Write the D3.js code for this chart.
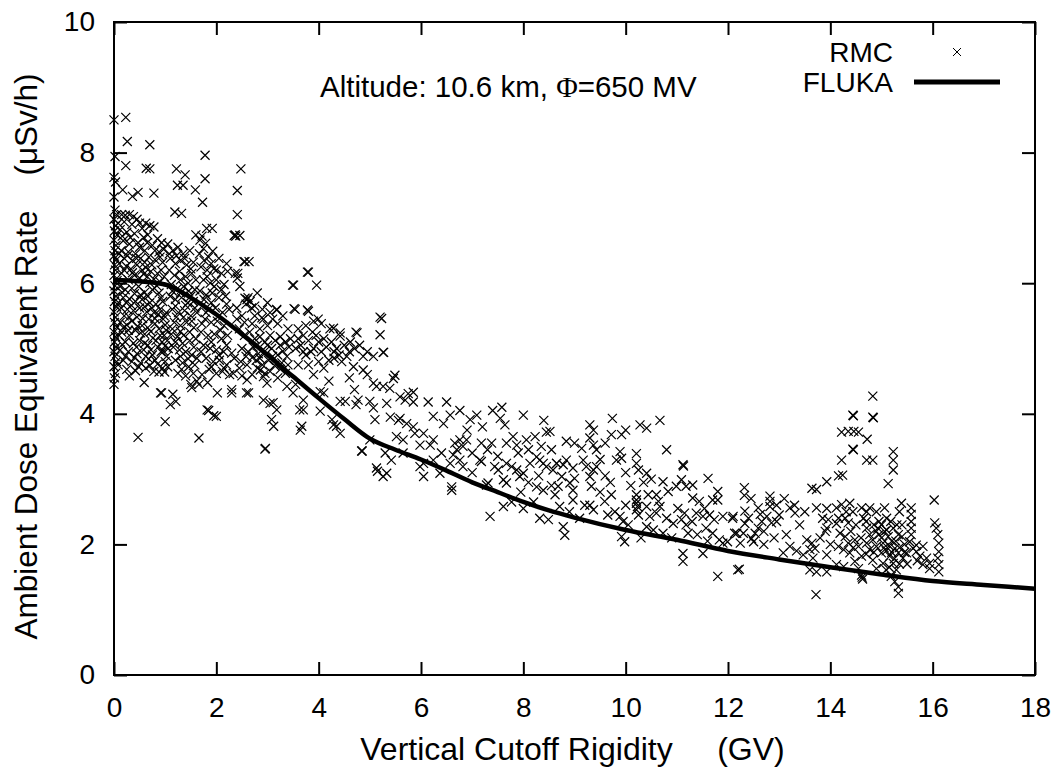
<!DOCTYPE html>
<html><head><meta charset="utf-8">
<script src="https://cdn.jsdelivr.net/npm/d3@7"></script>
<style>
html,body{margin:0;padding:0;background:#fff;}
svg{display:block;font-family:"Liberation Sans",Arial,sans-serif;}
</style></head>
<body><svg id="c" width="1058" height="774"></svg>
<script>
// ---------------- DATA ----------------
const xTicks = [0,2,4,6,8,10,12,14,16,18];
const yTicks = [0,2,4,6,8,10];
const xLabel = "Vertical Cutoff Rigidity     (GV)";
const yLabel = "Ambient Dose Equivalent Rate    (\u03BCSv/h)";
const seriesNames = ["RMC","FLUKA"];

// FLUKA calculation
const flukaX = [0,0.5,1,1.5,2,2.5,3,3.5,4,4.5,5,5.5,6,6.5,7,7.5,8,8.5,9,10,11,12,13,14,15,16,17,18];
const flukaY = [6.05,6.03,5.98,5.78,5.52,5.22,4.9,4.57,4.24,3.92,3.62,3.45,3.3,3.13,2.95,2.8,2.65,2.52,2.41,2.22,2.07,1.9,1.77,1.65,1.54,1.44,1.38,1.32];

// RMC measurements [rigidity GV, dose rate uSv/h]
const rmcEdge = [[0.0,8.50],[0.02,7.94],[0.0,7.62],[0.03,7.55],[0.0,7.32],[0.02,7.12],[0.05,7.05],[0.0,6.98],[0.03,6.88],[0.01,6.80],[0.06,6.74],[0.0,6.66],[0.04,6.58],[0.02,6.50],[0.0,6.42],[0.05,6.36],[0.01,6.28],[0.03,6.20],[0.0,6.12],[0.06,6.04],[0.02,5.96],[0.0,5.88],[0.04,5.80],[0.01,5.72],[0.05,5.64],[0.0,5.56],[0.03,5.48],[0.01,5.40],[0.06,5.33],[0.0,5.25],[0.03,5.18],[0.01,5.10],[0.04,5.02],[0.0,4.95],[0.02,4.88],[0.05,4.80],[0.0,4.72],[0.03,4.62],[0.01,4.55],[0.0,4.45],[0.08,6.92],[0.1,6.45],[0.09,5.70],[0.1,5.20],[0.08,4.75]];

const rmcLow = [[0.23,8.54],[0.26,8.17],[0.70,8.12],[0.23,7.80],[0.63,7.76],[0.70,7.75],[0.17,7.43],[0.36,7.33],[0.47,7.39],[0.78,7.38],
[0.15,7.05],[0.22,7.04],[0.3,7.05],[0.38,7.02],[0.45,6.98],[0.5,6.92],[0.62,6.92],[0.7,6.88],[0.78,6.86],[0.2,6.94],[0.35,6.9],[0.55,6.84],
[0.12,6.82],[0.25,6.78],[0.4,6.76],[0.58,6.7],[0.66,6.74],[0.85,6.68],[0.93,6.62],[0.18,6.65],[0.3,6.6],[0.47,6.62],[0.75,6.58],[0.14,6.5],[0.28,6.48],[0.42,6.45],[0.6,6.5],[0.88,6.48],[0.97,6.52],[0.2,6.38],[0.36,6.35],[0.52,6.38],[0.68,6.4],[0.8,6.36],[0.95,6.32],
[0.1,6.3],[0.24,6.26],[0.33,6.22],[0.45,6.28],[0.55,6.2],[0.62,6.24],[0.72,6.18],[0.85,6.15],[0.92,6.2],[0.15,6.15],[0.4,6.12],[0.5,6.08],[0.65,6.1],[0.78,6.06],[0.9,6.02],[0.28,6.05],[0.98,6.1],
[0.12,5.95],[0.22,5.9],[0.35,5.92],[0.48,5.95],[0.6,5.86],[0.75,5.9],[0.88,5.85],[0.18,5.78],[0.3,5.76],[0.42,5.72],[0.55,5.75],[0.7,5.7],[0.82,5.68],[0.95,5.72],[0.14,5.62],[0.26,5.6],[0.38,5.58],[0.5,5.62],[0.64,5.56],[0.78,5.55],[0.9,5.6],[0.2,5.5],[0.45,5.48],[0.68,5.45],[0.98,5.5],
[0.12,5.4],[0.25,5.36],[0.35,5.42],[0.55,5.35],[0.8,5.38],[0.15,5.25],[0.3,5.2],[0.42,5.28],[0.6,5.22],[0.72,5.26],[0.88,5.3],[0.22,5.1],[0.38,5.08],[0.5,5.12],[0.66,5.05],[0.82,5.12],[0.12,4.98],[0.28,4.95],[0.45,4.92],[0.58,4.98],[0.75,4.9],[0.92,4.95],[0.18,4.82],[0.35,4.8],[0.52,4.78],[0.68,4.84],[0.85,4.76],[0.25,4.68],[0.42,4.66],[0.62,4.7],[0.78,4.65],[0.95,4.7],[0.59,4.48],[0.91,4.32],[0.47,3.64],[0.3,4.58],
[0.96,5.45],[1.0,5.36],[1.02,5.28],[0.98,5.2],[1.04,5.12],[1.0,5.04],[0.97,4.96],[1.03,4.88],[1.0,4.8],[1.05,4.72],[0.99,4.64],[1.02,5.55],[1.06,5.0],[0.94,5.1],
[0.16,6.72],[0.32,6.7],[0.5,6.55],[0.65,6.62],[0.8,6.5],[0.26,6.42],[0.44,6.38],[0.6,6.32],[0.74,6.28],[0.9,6.4],[0.2,6.2],[0.36,6.16],[0.58,6.14],[0.7,6.0],[0.84,5.96],[0.16,5.86],[0.4,5.84],[0.52,5.82],[0.66,5.8],[0.92,5.78],[0.24,5.7],[0.34,5.66],[0.6,5.64],[0.74,5.62],[0.86,5.52],[0.3,5.48],[0.56,5.46],[0.8,5.46],[0.18,5.32],[0.46,5.34],[0.66,5.32],[0.9,5.2],[0.28,5.28],[0.52,5.24],[0.76,5.16],[0.16,5.06],[0.44,5.02],[0.6,5.08],[0.72,4.98],[0.86,5.02],[0.22,4.88],[0.4,4.86],[0.62,4.88],[0.8,4.82],[0.48,4.72],[0.7,4.74],[0.88,4.64]];

const rmcLowMid = [[1.22,7.75],[1.39,7.66],[1.24,7.5],[1.35,7.5],[1.59,7.43],[1.78,7.6],[1.78,7.96],[1.73,7.24],[1.19,7.09],[1.32,7.07],[1.81,6.84],[1.6,6.74],[1.68,6.66],[1.92,6.84],[1.72,6.72],[1.75,6.53],[1.79,6.61],
[1.05,6.6],[1.15,6.5],[1.25,6.55],[1.35,6.45],[1.48,6.5],[1.1,6.38],[1.2,6.3],[1.3,6.35],[1.42,6.28],[1.55,6.32],[1.08,6.2],[1.18,6.12],[1.28,6.18],[1.4,6.1],[1.52,6.15],[1.6,6.05],[1.12,5.98],[1.24,5.92],[1.36,5.95],[1.46,5.88],[1.58,5.9],[1.1,5.8],[1.2,5.75],[1.32,5.78],[1.44,5.7],[1.55,5.72],[1.14,5.6],[1.26,5.55],[1.38,5.58],[1.5,5.5],[1.62,5.55],[1.18,5.4],[1.3,5.35],[1.42,5.4],[1.56,5.32],[1.12,5.22],[1.24,5.18],[1.36,5.2],[1.48,5.12],[1.6,5.15],[1.16,5.02],[1.28,4.98],[1.4,4.95],[1.52,4.9],[1.2,4.82],[1.34,4.78],[1.46,4.72],[1.58,4.75],[1.25,4.62],[1.4,4.58],[1.1,4.14],[1.21,4.19],[1.15,4.3],[0.93,4.32],[1.0,3.88],[1.66,3.63],[1.5,4.45],[1.62,4.5],
[1.67,6.45],[1.85,6.4],[1.93,6.49],[2.05,6.38],[2.2,6.3],[1.7,6.25],[1.82,6.2],[1.95,6.22],[2.1,6.15],[2.22,6.18],[1.75,6.05],[1.88,6.0],[2.0,6.05],[2.15,5.98],[1.68,5.88],[1.8,5.82],[1.92,5.85],[2.05,5.78],[2.18,5.8],[1.72,5.65],[1.85,5.6],[1.98,5.62],[2.12,5.55],[2.25,5.6],[1.78,5.45],[1.9,5.4],[2.02,5.42],[2.15,5.35],[1.7,5.25],[1.84,5.2],[1.96,5.22],[2.1,5.15],[2.22,5.2],[1.75,5.05],[1.88,5.0],[2.0,4.98],[2.14,4.95],[1.8,4.85],[1.94,4.8],[2.06,4.82],[2.2,4.75],[1.86,4.68],[2.0,4.62],[2.12,4.65],[2.26,4.6],[1.52,4.4],[1.66,4.45],[1.83,4.48],[2.02,4.32],[2.15,4.7],[1.85,4.05],[2.0,3.96],[1.82,4.06],[1.95,3.97],[2.3,4.32],
[1.08,6.45],[1.22,6.42],[1.38,6.38],[1.5,6.22],[1.3,6.05],[1.45,6.0],[1.14,5.88],[1.3,5.85],[1.5,5.8],[1.2,5.65],[1.4,5.66],[1.58,5.62],[1.22,5.48],[1.36,5.48],[1.52,5.42],[1.14,5.3],[1.3,5.26],[1.48,5.25],[1.2,5.1],[1.34,5.08],[1.56,5.02],[1.3,4.88],[1.45,4.84],[1.62,4.85],[1.32,4.68],[1.55,4.62],[1.76,6.35],[1.9,6.3],[2.0,6.2],[1.82,6.1],[1.96,5.95],[2.1,5.9],[1.76,5.75],[1.9,5.7],[2.2,5.68],[1.8,5.55],[2.05,5.5],[1.72,5.38],[2.08,5.28],[1.9,5.1],[2.2,5.05],[1.7,4.95],[2.05,4.9],[1.9,4.72],[1.72,4.6]];

const rmcMid = [[2.37,6.74],[2.38,6.72],[2.41,7.05],[2.41,7.42],[2.48,7.75],[2.35,6.73],[2.46,6.73],[2.54,6.33],[2.56,6.33],[2.64,6.33],[2.42,6.15],[2.37,6.15],[2.41,6.08],[2.46,5.95],[2.56,5.77],[2.6,5.75],[2.62,5.78],[2.66,5.72],[2.69,5.62],[2.58,5.68],[2.4,5.45],[2.4,5.62],[2.5,5.5],[2.75,5.5],[2.89,5.47],[2.92,5.45],[2.85,5.3],[2.45,5.3],[2.55,5.2],[2.65,5.25],[2.75,5.15],[2.85,5.18],[2.95,5.1],[3.05,5.2],[3.15,5.12],[3.25,5.18],[3.35,5.1],[3.45,5.15],[2.5,5.0],[2.62,4.95],[2.72,5.02],[2.82,4.92],[2.95,4.96],[3.08,5.0],[3.2,4.9],[3.3,4.96],[3.42,5.02],[2.35,4.85],[2.48,4.8],[2.6,4.75],[2.78,4.82],[2.9,4.75],[3.02,4.82],[3.14,4.74],[3.28,4.78],[2.3,4.93],[2.33,4.62],[2.3,4.37],[2.6,4.52],[2.63,4.32],[2.59,4.32],[2.86,4.67],[2.92,4.57],[2.99,4.47],[2.92,4.21],[3.05,4.16],[3.18,4.06],[3.08,3.91],[3.12,3.81],[3.38,4.42],[3.5,4.32],[3.11,4.17],[2.95,3.46],[2.96,3.47],[3.18,5.59],[3.18,5.6],[3.0,5.35],[3.2,5.38],[3.4,5.3],[3.1,5.45],[3.3,5.5],[2.7,4.6],[3.2,4.55],[3.35,4.62],
[3.49,5.97],[3.51,5.97],[3.78,6.17],[3.8,6.17],[3.96,5.97],[3.54,5.6],[3.52,5.61],[3.8,5.57],[3.78,5.59],[3.99,5.45],[3.9,5.42],[3.6,5.3],[3.7,5.2],[3.65,5.05],[3.8,5.12],[3.9,5.0],[4.0,5.1],[3.75,4.9],[3.85,4.95],[4.05,4.95],[4.15,5.02],[4.22,5.3],[4.29,5.31],[4.42,5.19],[4.42,5.24],[4.25,5.1],[4.35,5.0],[4.5,5.05],[4.6,4.95],[4.73,5.25],[4.75,5.24],[4.7,5.0],[4.87,4.88],[5.07,4.88],[4.68,4.72],[4.87,4.67],[4.3,4.85],[4.45,4.8],[3.6,4.75],[3.7,4.21],[3.7,4.06],[3.63,4.06],[3.64,3.75],[3.67,3.81],[4.03,4.34],[4.1,4.32],[4.03,4.04],[4.26,3.91],[4.35,3.81],[4.29,3.83],[4.42,3.7],[4.42,4.19],[4.52,4.19],[4.7,4.37],[4.77,4.21],[4.73,4.14],[5.0,4.19],[5.07,4.09],[5.1,3.91],[5.07,4.47],[5.13,4.42],[5.33,4.16],[4.84,3.43],[4.85,3.43],[5.13,3.17],[5.15,3.12],[5.2,5.48],[5.2,5.21],[5.27,4.94],[5.23,5.46],[5.26,4.94],[5.46,4.54],[5.49,4.59],[5.26,4.42],[5.39,4.39],[5.3,3.4],[5.33,3.09],[5.26,3.04],[5.42,3.29],[3.9,4.6],[4.1,4.7],[4.2,4.5],[4.6,4.55],[3.55,4.45],[4.95,4.6],[5.0,3.6],[5.4,3.95],
[2.55,5.4],[2.7,5.38],[2.8,5.05],[3.0,5.05],[3.25,5.05],[2.58,4.88],[2.7,4.86],[2.85,4.85],[3.1,4.88],[3.38,4.88],[2.45,4.7],[2.8,4.7],[3.05,4.65],[3.25,4.68],[2.5,4.58],[2.95,4.62],[3.4,4.75],[3.55,5.0],[3.7,4.95],[3.6,5.15],[3.95,5.2],[4.1,5.15],[3.75,5.35],[3.88,5.25],[4.05,5.38],[4.3,4.95],[4.4,4.9],[4.55,4.88],[4.62,5.1],[4.8,5.05],[4.95,4.95],[4.0,4.8],[3.8,4.75],[4.2,4.82],[2.75,5.65],[2.9,5.6],[3.05,5.55],[2.8,5.85],[3.0,5.7]];

const rmcMidHigh = [[5.59,4.26],[5.75,4.31],[5.85,4.33],[5.69,4.21],[5.85,4.18],[6.14,4.18],[6.5,4.18],[6.76,4.05],[5.56,3.90],[5.59,3.93],[5.72,3.85],[5.85,3.8],[6.24,3.96],[6.44,3.85],[6.57,3.98],[6.96,3.91],[7.09,3.98],[7.58,4.1],[7.55,3.93],[7.64,3.83],[8.0,3.98],[5.52,3.65],[5.65,3.6],[5.88,3.70],[6.05,3.70],[5.98,3.52],[6.18,3.52],[6.24,3.6],[6.66,3.55],[6.76,3.6],[6.89,3.6],[7.18,3.55],[7.38,3.55],[7.8,3.65],[7.67,3.55],[7.87,3.52],[8.06,3.6],[8.23,3.65],[8.45,3.72],[5.65,3.40],[6.24,3.29],[6.57,3.24],[6.63,3.37],[6.76,3.29],[6.82,3.19],[7.15,3.29],[7.18,3.27],[7.44,3.19],[7.51,3.14],[7.67,3.24],[7.77,3.19],[7.87,3.14],[8.0,3.09],[8.13,3.24],[8.26,3.34],[8.32,3.29],[8.39,3.24],[8.45,3.19],[7.61,2.99],[7.67,2.94],[7.93,3.04],[8.26,2.88],[8.39,2.83],[8.58,3.14],[8.65,3.24],[6.05,3.04],[6.37,3.09],[6.6,2.88],[6.6,2.83],[7.28,2.91],[7.31,2.94],[7.61,2.58],[7.77,2.65],[7.35,2.43],[8.32,2.4],[8.49,2.38],[8.71,2.58],[5.98,3.19],[6.05,3.24],[6.7,3.45],[6.82,3.5],[7.0,3.4],[7.3,3.45],[7.5,3.35],[7.9,3.4],[8.1,3.45],[8.35,3.5],[6.4,3.4],[7.0,3.1],[8.1,2.95],[8.55,2.9],[7.95,2.8],[8.2,2.65],[8.0,2.55],[7.2,3.8],[6.9,3.75],[7.4,4.05],[8.4,3.9],[8.3,3.05]];

const rmcHigh = [[9.74,3.93],[9.3,3.83],[9.37,3.75],[10.41,3.78],[9.72,3.68],[9.92,3.68],[8.84,3.58],[9.14,3.47],[9.37,3.52],[9.43,3.45],[9.3,3.63],[8.52,3.73],[8.55,3.45],[9.89,3.42],[9.82,3.29],[9.92,3.32],[10.21,3.39],[10.21,3.24],[10.25,3.14],[10.41,3.09],[10.8,3.45],[11.12,3.22],[11.13,3.2],[8.65,3.24],[8.78,3.22],[8.84,3.29],[8.97,3.17],[9.0,3.01],[8.91,2.94],[9.17,3.29],[9.23,3.19],[9.37,3.14],[9.43,3.19],[9.3,3.04],[9.33,2.89],[8.75,3.04],[8.68,2.89],[8.62,2.76],[8.97,2.83],[8.97,2.68],[9.2,2.6],[9.3,2.6],[9.37,2.53],[9.59,2.66],[9.72,2.76],[9.79,2.50],[9.89,2.43],[9.95,2.35],[8.78,2.27],[8.81,2.14],[9.92,2.12],[9.98,2.04],[10.21,2.76],[10.21,2.63],[10.21,2.53],[10.25,2.45],[10.21,2.68],[10.23,2.58],[10.44,2.76],[10.41,2.58],[10.47,2.43],[10.6,2.76],[10.64,2.66],[10.67,2.58],[10.6,2.48],[10.73,2.96],[10.83,2.81],[10.99,2.89],[11.09,2.99],[11.18,2.89],[11.31,2.91],[10.8,2.40],[10.93,2.32],[11.09,2.38],[11.02,2.55],[11.15,2.48],[11.18,2.30],[11.22,2.17],[10.41,2.27],[10.54,2.22],[10.73,2.17],[11.12,1.86],[11.12,1.74],[11.51,1.86],[11.61,3.01],[11.8,2.81],[11.31,2.71],[11.44,2.66],[11.54,2.55],[11.7,2.68],[11.8,2.68],[11.38,2.48],[11.51,2.43],[11.64,2.45],[11.73,2.38],[11.9,2.43],[12.09,2.40],[11.57,2.25],[11.7,2.17],[11.83,2.07],[11.9,2.02],[11.99,2.04],[12.13,2.17],[11.8,1.51],[12.19,1.61],[10.67,3.9],[10.28,3.83],[9.5,3.3],[9.6,3.05],[9.7,2.95],[10.0,3.1],[10.1,2.9],[10.35,2.95],[10.5,3.0],[9.5,2.8],[9.65,2.45],[10.0,2.6],[10.05,2.3],[10.3,2.1],[9.1,2.4],[8.9,2.5],[11.4,2.15],[11.6,2.05],[11.3,2.35],[10.9,2.1],[9.6,3.55],[9.0,3.55],[10.0,3.75]];

const rmcFar = [[14.83,4.27],[14.44,3.98],[14.45,3.97],[14.83,3.95],[14.84,3.94],[14.22,3.72],[14.35,3.73],[14.46,3.73],[14.55,3.72],[14.72,3.61],[14.44,3.46],[14.45,3.45],[14.22,3.29],[14.71,3.29],[14.83,3.29],[14.16,3.05],[14.24,3.06],[13.93,2.96],[13.64,2.86],[13.73,2.84],[15.23,3.42],[15.23,3.29],[15.23,3.14],[15.13,2.93],[12.32,2.87],[12.32,2.75],[12.82,2.74],[12.82,2.66],[12.82,2.58],[16.03,2.68],[12.1,2.43],[12.33,2.51],[12.59,2.56],[12.63,2.46],[12.66,2.35],[12.59,2.25],[12.53,2.17],[12.46,2.09],[12.3,2.17],[12.17,2.17],[12.33,2.32],[12.76,2.43],[12.85,2.33],[12.95,2.35],[12.24,2.02],[12.5,2.04],[12.22,1.62],[13.21,2.56],[13.31,2.48],[13.14,2.15],[13.21,1.97],[13.08,1.87],[13.34,1.9],[13.54,2.07],[13.64,2.02],[13.6,1.92],[13.7,1.94],[13.47,1.84],[13.66,1.79],[13.6,1.61],[13.73,1.58],[13.93,1.58],[13.72,1.23],[13.73,2.56],[13.93,2.55],[13.96,2.38],[13.93,2.25],[13.9,2.2],[13.93,1.84],[14.12,2.56],[14.22,2.61],[14.31,2.5],[14.38,2.63],[14.44,2.5],[14.16,2.4],[14.29,2.4],[14.35,2.33],[14.12,2.32],[14.19,2.17],[14.29,2.12],[14.16,1.97],[14.26,1.92],[14.35,2.02],[14.48,2.07],[14.55,1.97],[14.38,1.87],[14.61,1.82],[14.48,1.74],[14.55,1.63],[14.61,1.53],[14.63,1.47],[14.62,1.5],[14.61,2.56],[14.71,2.5],[14.77,2.56],[14.9,2.5],[15.06,2.56],[14.71,2.25],[14.77,2.15],[14.9,2.2],[14.93,2.25],[15.06,2.2],[15.13,2.12],[15.23,2.25],[15.33,2.15],[14.83,2.07],[14.9,1.97],[15.0,1.87],[15.03,2.02],[15.09,1.9],[15.16,1.82],[15.26,1.94],[15.33,1.87],[15.23,1.71],[15.29,1.61],[15.19,1.51],[15.26,1.43],[15.33,1.35],[15.33,1.25],[15.39,2.63],[15.58,2.56],[15.58,2.46],[15.58,2.35],[15.58,2.25],[15.58,2.15],[15.55,2.04],[15.62,1.94],[15.42,1.79],[15.49,1.87],[15.68,1.89],[15.75,1.82],[15.88,1.79],[15.94,1.71],[15.81,1.69],[15.94,1.63],[16.04,2.33],[16.07,2.25],[16.1,2.15],[16.12,2.02],[16.12,1.89],[16.1,1.79],[16.12,1.69],[16.12,1.58],[15.68,1.99],[15.81,1.97],[15.03,1.71],[15.09,1.61],[14.9,1.63],[14.71,2.02],[14.77,1.92],[14.83,1.76],[14.12,1.69],[14.26,1.66],[12.9,2.1],[13.0,2.45],[13.4,2.3],[13.5,2.5],[13.1,2.7],[12.45,2.7],[12.7,2.0],[13.8,2.1],[15.2,2.05],[15.4,2.3],[15.1,2.4],[15.35,2.5],[14.95,2.35],[15.45,2.0],[15.25,1.78],[15.15,1.98],[14.5,2.3],[14.65,2.4],[15.0,2.1],
[14.7,2.35],[14.85,2.3],[15.0,2.3],[15.18,2.35],[15.3,2.3],[14.95,2.15],[15.1,2.22],[15.28,2.05],[15.4,2.12],[14.85,1.88],[15.05,1.95],[15.2,1.88],[15.35,1.95],[15.45,1.88],[15.15,1.65],[15.35,1.7],[15.5,1.7],[15.7,1.75],[14.4,2.2],[14.6,2.1],[14.45,1.95],[14.7,1.85],[13.85,2.4],[14.0,2.0],[13.3,2.6],[12.95,2.6],[12.7,2.2],[12.4,2.4]];

const rmcAll = [].concat(rmcEdge, rmcLow, rmcLowMid, rmcMid, rmcMidHigh, rmcHigh, rmcFar);

// ---------------- CHART ----------------
const svg = d3.select("#c");
const L = 114, R = 1035, T = 22, B = 675;
const x = d3.scaleLinear().domain([0,18]).range([L,R]);
const y = d3.scaleLinear().domain([0,10]).range([B,T]);
const tick = 13;

svg.append("rect").attr("width",1058).attr("height",774).attr("fill","#fff");

function styleAxis(g, labels){
  g.select(".domain").remove();
  g.selectAll(".tick line").attr("stroke","#000").attr("stroke-width",2);
  g.selectAll(".tick text").attr("fill","#000").style("font-size","28px")
    .style("font-family","'Liberation Sans',Arial,sans-serif");
  if(!labels) g.selectAll(".tick text").remove();
}
svg.append("g").attr("class","xb").attr("transform",`translate(0,${B})`)
  .call(d3.axisBottom(x).tickValues(xTicks).tickSize(-tick).tickFormat(d3.format("d")))
  .call(g=>styleAxis(g,true));
svg.select(".xb").selectAll(".tick text").attr("dy",null).attr("y",42);
svg.append("g").attr("transform",`translate(0,${T})`)
  .call(d3.axisTop(x).tickValues(xTicks).tickSize(-tick))
  .call(g=>styleAxis(g,false));
svg.append("g").attr("transform",`translate(${L},0)`)
  .call(d3.axisLeft(y).tickValues(yTicks).tickSize(-tick).tickPadding(19).tickFormat(d3.format("d")))
  .call(g=>styleAxis(g,true));
svg.append("g").attr("transform",`translate(${R},0)`)
  .call(d3.axisRight(y).tickValues(yTicks).tickSize(-tick))
  .call(g=>styleAxis(g,false));

// RMC markers
const cross = "M-4.5,-4.5L4.5,4.5M-4.5,4.5L4.5,-4.5";
svg.append("g").selectAll("path").data(rmcAll).join("path")
  .attr("transform",d=>`translate(${x(d[0])},${y(d[1])})`)
  .attr("d",cross).attr("fill","none").attr("stroke","#000").attr("stroke-width",1.2);

// FLUKA line
const fl = flukaX.map((v,i)=>[v,flukaY[i]]);
svg.append("path").datum(fl)
  .attr("d",d3.line().x(d=>x(d[0])).y(d=>y(d[1])).curve(d3.curveMonotoneX))
  .attr("fill","none").attr("stroke","#000").attr("stroke-width",4.5).attr("stroke-linejoin","round");

// frame
svg.append("rect").attr("x",L).attr("y",T).attr("width",R-L).attr("height",B-T)
  .attr("fill","none").attr("stroke","#000").attr("stroke-width",2);

// axis labels
svg.append("text").attr("x",(L+R)/2 - 2).attr("y",760).attr("text-anchor","middle")
  .style("font-size","32px").style("white-space","pre").attr("xml:space","preserve").text(xLabel);
svg.append("text").attr("transform",`translate(37,${(T+B)/2+8}) rotate(-90)`).attr("text-anchor","middle")
  .style("font-size","31.5px").style("white-space","pre").attr("xml:space","preserve").text(yLabel);

// annotation
const ann = svg.append("text").attr("x",320).attr("y",97).style("font-size","29.5px");
ann.append("tspan").text("Altitude: 10.6 km, ");
ann.append("tspan").style("font-family","'Liberation Serif','DejaVu Serif',serif").text("\u03A6");
ann.append("tspan").text("=650 MV");

// legend
svg.append("text").attr("x",893).attr("y",62).attr("text-anchor","end").style("font-size","28px").text(seriesNames[0]);
svg.append("path").attr("transform","translate(957,52)").attr("d","M-4,-4L4,4M-4,4L4,-4").attr("stroke","#000").attr("stroke-width",1);
svg.append("text").attr("x",893).attr("y",92).attr("text-anchor","end").style("font-size","28px").text(seriesNames[1]);
svg.append("line").attr("x1",914).attr("x2",1000).attr("y1",82).attr("y2",82).attr("stroke","#000").attr("stroke-width",5);
</script></body></html>
